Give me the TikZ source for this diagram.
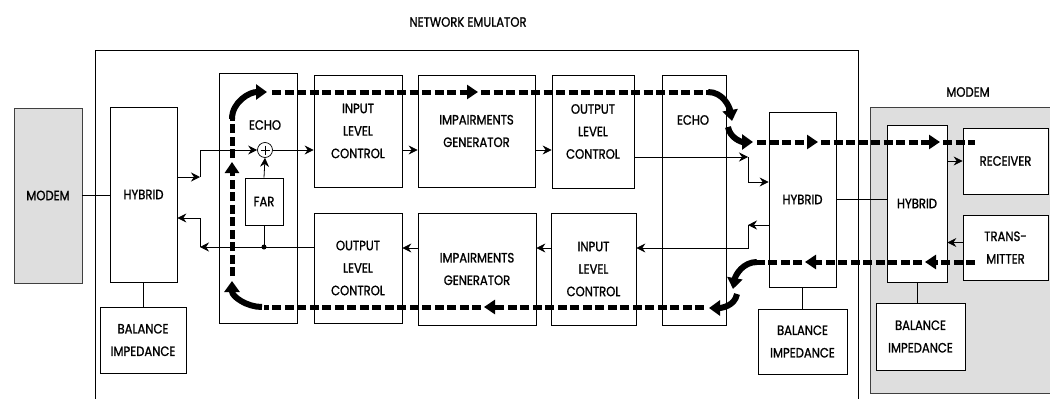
\documentclass[tikz,border=0pt]{standalone}
\usepackage{fontspec}
\newfontfamily\diagfont{Poppins}[FakeStretch=0.86, FakeBold=1.2]
\usetikzlibrary{positioning,arrows.meta}
\tikzset{txt/.style={font=\diagfont\fontsize{13.5}{22.5}\selectfont, align=center, inner sep=0pt}}
\tikzset{box/.style={txt, draw, line width=0.7pt}}
\tikzset{shaded/.style={box, fill=black!13, draw=black!75}}
\tikzset{wh/.style 2 args={minimum width=#1pt, minimum height=#2pt}}
\tikzset{wire/.style={draw, line width=0.8pt}}
\tikzset{arr/.style={wire, -{Stealth[length=9pt, width=9pt, inset=3pt]}}}
\tikzset{flow/.style={line width=5pt, dash pattern=on 9pt off 3.5pt}}
\tikzset{flowarr/.style={flow, -{Triangle[length=11pt, width=14pt]}}}
\tikzset{flowbend/.style={line width=6pt, -{Triangle[length=11pt, width=15pt]}}}

\begin{document}
\begin{tikzpicture}[x=1pt, y=-1pt]
	\useasboundingbox (0,0) rectangle (1050,399);
	% emulator frame and far modem
	\node[txt] (title) at (468,22) {NETWORK EMULATOR};
	\draw[line width=0.7pt] (95,399) |- (858,50) -- (858,399);
	\node[shaded, wh={180}{286}] (modemR) at (960,250) {};
	\node[txt] (modemRtxt) at (968,92) {MODEM};

	\node[shaded, wh={68}{175}] (modemL) at (48,195.5) {MODEM};
	\node[box, wh={67}{175}] (hybL) at (143.5,194.5) {HYBRID};
	\node[box, wh={86}{66}] (balL) at (143,340) {BALANCE\\IMPEDANCE};

	\node[box, wh={78}{250}] (echoL) at (258,198) {};
	\node[txt] (echoLtxt) at (265,125) {ECHO};
	\node[draw, circle, line width=0.7pt, minimum size=15pt, inner sep=0pt,
		path picture={\draw[line width=0.5pt] ([yshift=4.5pt]path picture bounding box.center) -- ([yshift=-4.5pt]path picture bounding box.center)
			([xshift=-4.5pt]path picture bounding box.center) -- ([xshift=4.5pt]path picture bounding box.center);}] (sum) at (265,150) {};
	\node[box, wh={38}{47}] (far) at (264,201.5) {FAR};
	\coordinate (dot) at (264,247);

	\node[box, wh={88}{112}] (ilcT) at (358,131) {INPUT\\LEVEL\\CONTROL};
	\node[box, wh={117}{112}] (igT) at (476.5,131) {IMPAIRMENTS\\GENERATOR};
	\node[box, wh={82}{113}] (olcT) at (593,131.5) {OUTPUT\\LEVEL\\CONTROL};
	\node[box, wh={64}{250}] (echoR) at (694,200) {};
	\node[txt] (echoRtxt) at (693,120) {ECHO};
	\node[box, wh={88}{110}] (olcB) at (358,268) {OUTPUT\\LEVEL\\CONTROL};
	\node[box, wh={118}{112}] (igB) at (477,269) {IMPAIRMENTS\\GENERATOR};
	\node[box, wh={85}{112}] (ilcB) at (593.5,269) {INPUT\\LEVEL\\CONTROL};

	\node[box, wh={67}{175}] (hybR) at (802.5,199.5) {HYBRID};
	\node[box, wh={89}{65}] (balR) at (802.5,341.5) {BALANCE\\IMPEDANCE};
	\node[box, fill=white, wh={60}{157}] (hybM) at (917,203.5) {HYBRID};
	\node[box, fill=white, wh={85}{66}] (rcv) at (1005.5,161) {RECEIVER};
	\node[box, fill=white, wh={85}{65}] (tx) at (1005.5,247.5) {TRANS-\\MITTER};
	\node[box, fill=white, wh={89}{67}] (balM) at (920.5,336.5) {BALANCE\\IMPEDANCE};

	\coordinate (jL1) at (200,177);
	\coordinate (jL2) at (200,247);
	\coordinate (jR1) at (748,157);
	\coordinate (jR2) at (748,225);

	% signal wires
	\draw[wire] (modemL.east) -- (modemL.east -| hybL.west);
	\draw[wire] (hybL.south) -- (hybL.south |- balL.north);
	\draw[arr] (jL1 -| hybL.east) -- (jL1);
	\draw[arr] (jL1) |- (sum.west);
	\draw[arr] (sum.east) -- (sum.east -| ilcT.west);
	\draw[arr] (far.north) -- (sum.south);
	\draw[wire] (far.south) -- (dot);
	\fill (dot) circle (2.5pt);
	\draw[arr] (dot -| olcB.west) -- (jL2);
	\draw[arr] (jL2) |- ([yshift=-23.5pt]hybL.east);

	\draw[arr] ([yshift=-19pt]ilcT.east) -- ([yshift=-19pt]ilcT.east -| igT.west);
	\draw[arr] ([yshift=-19pt]igT.east) -- ([yshift=-19pt]igT.east -| olcT.west);
	\draw[arr] (jR1 -| olcT.east) -- (jR1);
	\draw[arr] (jR1) |- ([yshift=17.5pt]hybR.west);
	\draw[arr] ([yshift=-25.5pt]hybR.west) -- (jR2);
	\draw[arr] (jR2) |- ([yshift=21pt]ilcB.east);
	\draw[arr] ([yshift=21pt]ilcB.west) -- ([yshift=21pt]ilcB.west -| igB.east);
	\draw[arr] ([yshift=21pt]igB.west) -- ([yshift=21pt]igB.west -| olcB.east);

	\draw[wire] (hybR.south) -- (balR.north);
	\draw[wire] (hybR.east) -- (hybR.east -| hybM.west);
	\draw[wire] (hybM.south) -- (hybM.south |- balM.north);
	\draw[arr] (rcv.west -| hybM.east) -- (rcv.west);
	\draw[arr] ([yshift=5pt]tx.west) -- ([yshift=5pt]tx.west -| hybM.east);

	% thick loop through the echo paths
	\draw[flowbend] (262,307) to[out=180, in=-90] (232,281);
	\draw[flowarr] (232,276) -- (232,162);
	\draw[flow] (232,158) -- (232,118);
	\draw[flowbend] (232,119) to[out=90, in=180] (267,92);
	\draw[flowarr] (272,92) -- (478,92);
	\draw[flow] (481,92) -- (710,92);
	\draw[flowbend] (708,92) to[out=0, in=100] (732,121);
	\draw[flowbend] (728,127) to[out=-80, in=180] (753,142);
	\draw[flowarr] (757,142) -- (818,142);
	\draw[flowarr] (821,142) -- (940,142);
	\draw[flow] (943,142) -- (975,142);
	\draw[flowarr] (975,262) -- (925,262);
	\draw[flowarr] (922,262) -- (805,262);
	\draw[flow] (802,262) -- (756,262);
	\draw[flowbend] (757,262) to[out=180, in=80] (733,289);
	\draw[flowbend] (737,294) to[out=-100, in=0] (709,308);
	\draw[flowarr] (704,307) -- (484,307);
	\draw[flow] (481,307) -- (264,307);
\end{tikzpicture}
\end{document}
